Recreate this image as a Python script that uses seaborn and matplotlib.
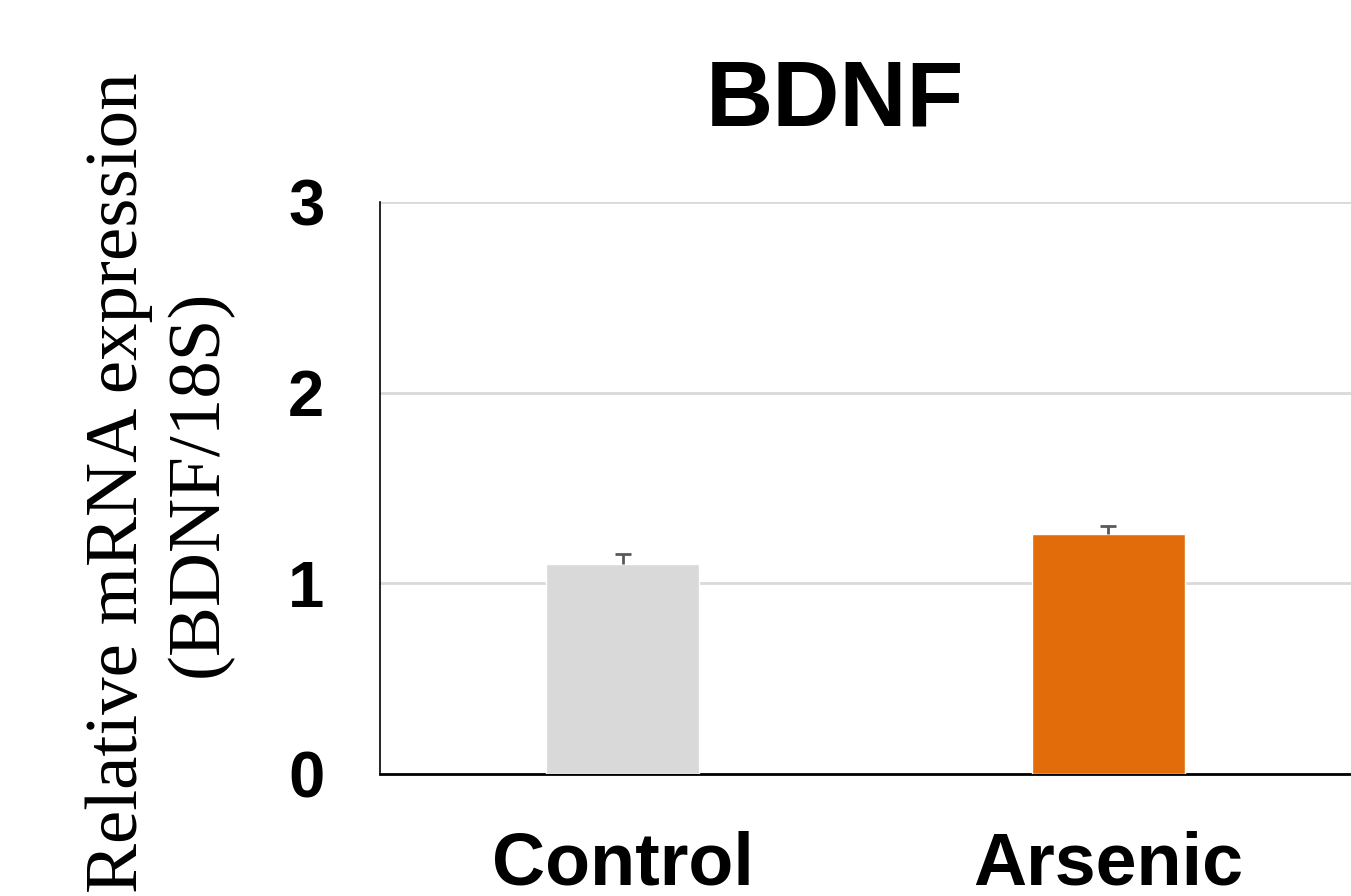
import matplotlib
matplotlib.use("Agg")
import matplotlib.pyplot as plt
import seaborn as sns
import pandas as pd
import numpy as np

categories = ["Control", "Arsenic"]
values = [1.10, 1.26]
errors = [0.055, 0.04]
colors = ["#d9d9d9", "#e36c0a"]
yticks = [0, 1, 2, 3]
title = "BDNF"
ylabel = "Relative mRNA expression\n(BDNF/18S)"

sns.set_theme(style="white")
plt.rcParams['font.family'] = ['Liberation Sans', 'DejaVu Sans']
plt.rcParams['text.color'] = 'black'
plt.rcParams['xtick.color'] = 'black'
plt.rcParams['ytick.color'] = 'black'

fig = plt.figure(figsize=(13.51, 8.96), dpi=100)
ax = fig.add_axes([380/1351, 1-774/896, 1-380/1351, (774-202)/896])

df = pd.DataFrame({"group": categories, "value": values})
sns.barplot(data=df, x="group", y="value", hue="group", palette=colors,
            width=0.315, errorbar=None, legend=False, ax=ax, zorder=3,
            saturation=1)
xs = np.arange(len(categories))
eb = ax.errorbar(xs, values, yerr=[np.zeros(len(errors)), errors], fmt="none",
                 ecolor="#595959", elinewidth=2, capsize=6, capthick=2, zorder=4)
eb[1][0].set_visible(False)

ax.set_ylim(0, 3)
ax.set_xlim(-0.5, 1.5)
ax.set_yticks(yticks)
ax.set_yticklabels([str(t) for t in yticks], fontsize=47, fontweight="bold",
                   family=["Liberation Sans", "DejaVu Sans"], color="black")
ax.set_xticks(xs)
ax.set_xticklabels(categories, fontsize=53, fontweight="bold",
                   family=["Liberation Sans", "DejaVu Sans"], color="black")
ax.tick_params(axis="y", length=0, pad=40)
ax.tick_params(axis="x", length=0, pad=41)
ax.set_xlabel("")
ax.set_ylabel("")
ax.yaxis.grid(True, color="#d9d9d9", linewidth=2, zorder=0)
ax.set_axisbelow(True)
for s in ["top", "right"]:
    ax.spines[s].set_visible(False)
ax.spines["left"].set_color("#000000")
ax.spines["left"].set_linewidth(1.2)
ax.spines["bottom"].set_color("#000000")
ax.spines["bottom"].set_linewidth(2)

fig.text(835/1351, 1-101/896, title, fontsize=67, fontweight="bold",
         ha="center", va="center", color="black",
         family=["Liberation Sans", "DejaVu Sans"])
fig.text(159/1351, 1-483/896, ylabel, fontsize=54, rotation=90,
         ha="center", va="center", multialignment="center", linespacing=1.25,
         color="black", family=["Liberation Serif", "DejaVu Serif"])

fig.savefig("out.png", dpi=100)
